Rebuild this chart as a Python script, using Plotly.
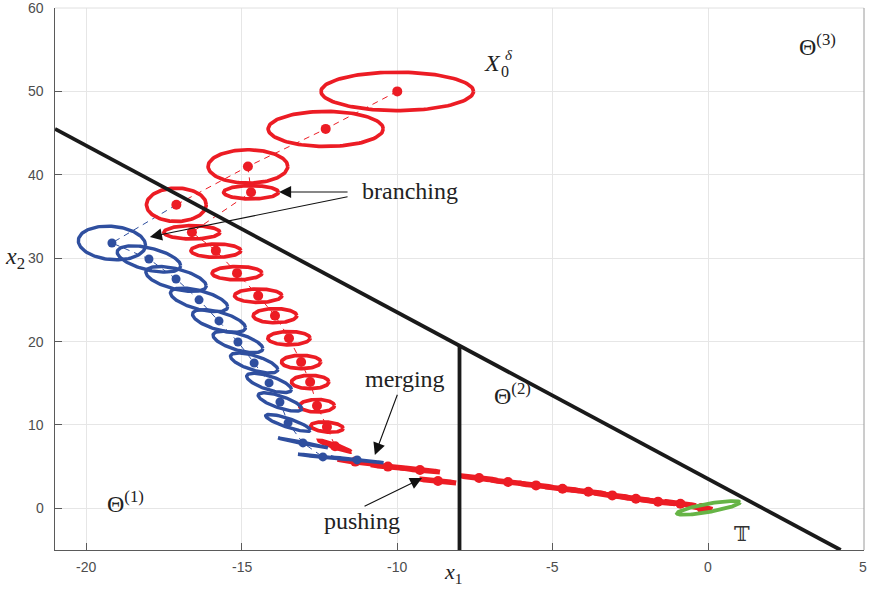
import numpy as np
import plotly.graph_objects as go

# ---------------- data ----------------
# region boundaries: x2 = slope*x1 + intercept, and a vertical wall at x1 = wall_x
bound_slope = -2.0
bound_intercept = 3.5
wall_x = -8.0

# red uncertainty sets (center, half-width in x1, half-height in x2, shear dx2/dx1)
red_cx = [-10.0, -12.3, -14.8, -14.7, -17.1, -16.6, -15.83, -15.15, -14.47, -13.93,
          -13.48, -13.09, -12.8, -12.58, -12.26, -12.0]
red_cy = [50.0, 45.5, 41.0, 37.9, 36.4, 33.1, 30.9, 28.2, 25.5, 23.1,
          20.4, 17.55, 15.15, 12.3, 9.75, 7.45]
red_rx = [2.45, 1.85, 1.28, 0.88, 0.96, 0.9, 0.8, 0.8, 0.76, 0.7,
          0.68, 0.63, 0.6, 0.56, 0.52, 0.52]
red_ry = [2.3, 2.1, 2.0, 0.8, 2.0, 0.8, 0.8, 0.8, 0.8, 0.85,
          0.8, 0.8, 0.8, 0.75, 0.6, 0.22]
red_k = [0.0, 0.0, 0.0, 0.0, 0.0, 0.0, 0.0, 0.0, 0.0, 0.0,
         0.0, 0.0, 0.0, 0.0, -0.3, -1.3]

# red degenerate (flat) sets after merging, on the way to the target
seg_cx = [-11.35, -10.3, -9.27, -8.69, -7.37, -6.44, -5.54, -4.69, -3.86, -3.09,
          -2.33, -1.62, -0.9, -0.22]
seg_cy = [5.6, 5.0, 4.6, 3.27, 3.63, 3.15, 2.75, 2.35, 1.98, 1.55,
          1.15, 0.8, 0.55, 0.05]
seg_rx = [0.55, 0.55, 0.64, 0.58, 0.58, 0.55, 0.55, 0.55, 0.55, 0.55,
          0.55, 0.55, 0.5, 0.35]
seg_ry = [0.07] * 14
seg_k = [-0.5, -0.4, -0.4, -0.41, -0.45, -0.45, -0.45, -0.45, -0.45, -0.5,
         -0.5, -0.45, -0.5, -0.5]

# blue uncertainty sets
blue_cx = [-19.17, -17.98, -17.11, -16.37, -15.73, -15.12, -14.6, -14.12, -13.77, -13.51,
           -13.03, -12.39, -11.29]
blue_cy = [31.82, 29.9, 27.5, 25.0, 22.47, 19.95, 17.43, 15.04, 12.75, 10.24,
           7.84, 6.16, 5.8]
blue_rx = [1.08, 1.02, 0.97, 0.92, 0.85, 0.8, 0.76, 0.72, 0.7, 0.72,
           0.8, 0.8, 0.85]
blue_ry = [2.0, 1.35, 1.25, 1.15, 1.1, 1.0, 0.9, 0.85, 0.75, 0.55,
           0.08, 0.06, 0.06]
blue_k = [-0.25, -0.8, -0.85, -0.9, -0.95, -1.0, -1.05, -1.1, -1.15, -1.2,
          -0.75, -0.4, -0.4]

# target set
target_c = (0.0, 0.05)
target_rx, target_ry, target_k = 1.01, 0.5, 0.65

# dashed nominal paths (indices into red / blue centers)
red_path_a = [0, 1, 2, 4]
red_path_b = [2, 3, 5, 6, 7, 8, 9, 10, 11, 12, 13, 14, 15]
blue_start_red = 4

x_range = [-21.0, 5.0]
y_range = [-5.0, 60.0]
x_ticks = [-20, -15, -10, -5, 0, 5]
y_ticks = [0, 10, 20, 30, 40, 50, 60]

RED = "#ec1c24"
BLUE = "#2f4f9f"
GREEN = "#66b446"
BLACK = "#1a1a1a"
SERIF = "Liberation Serif"
TICKFONT = dict(family="Liberation Sans", size=14, color="#4d4d4d")


def ellipse_pts(cx, cy, rx, ry, k, n=120):
    t = np.linspace(0, 2 * np.pi, n)
    return cx + rx * np.cos(t), cy + k * rx * np.cos(t) + ry * np.sin(t)


def ellipse_trace(cxs, cys, rxs, rys, ks, color, width):
    xs, ys = [], []
    for cx, cy, rx, ry, k in zip(cxs, cys, rxs, rys, ks):
        ex, ey = ellipse_pts(cx, cy, rx, ry, k)
        xs += list(ex) + [None]
        ys += list(ey) + [None]
    return go.Scatter(x=xs, y=ys, mode="lines", line=dict(color=color, width=width),
                      hoverinfo="skip", showlegend=False)


fig = go.Figure()

# dashed nominal paths
fig.add_trace(go.Scatter(x=[red_cx[i] for i in red_path_a], y=[red_cy[i] for i in red_path_a],
                         mode="lines", line=dict(color=RED, width=1, dash="6px,5px"),
                         showlegend=False))
fig.add_trace(go.Scatter(x=[red_cx[i] for i in red_path_b], y=[red_cy[i] for i in red_path_b],
                         mode="lines", line=dict(color=RED, width=1, dash="6px,5px"),
                         showlegend=False))
fig.add_trace(go.Scatter(x=[red_cx[blue_start_red]] + blue_cx, y=[red_cy[blue_start_red]] + blue_cy,
                         mode="lines", line=dict(color=BLUE, width=1, dash="6px,5px"),
                         showlegend=False))

# uncertainty sets
fig.add_trace(ellipse_trace(red_cx, red_cy, red_rx, red_ry, red_k, RED, 3.7))
fig.add_trace(ellipse_trace(seg_cx, seg_cy, seg_rx, seg_ry, seg_k, RED, 5))
fig.add_trace(go.Scatter(x=red_cx + seg_cx, y=red_cy + seg_cy, mode="markers",
                         marker=dict(color=RED, size=10), showlegend=False))
fig.add_trace(ellipse_trace(blue_cx, blue_cy, blue_rx, blue_ry, blue_k, BLUE, 3.4))
fig.add_trace(go.Scatter(x=blue_cx, y=blue_cy, mode="markers",
                         marker=dict(color=BLUE, size=9), showlegend=False))
fig.add_trace(ellipse_trace([target_c[0]], [target_c[1]], [target_rx], [target_ry], [target_k],
                            GREEN, 3.8))

# region boundaries
bx = np.array([x_range[0], (y_range[0] - bound_intercept) / bound_slope])
fig.add_trace(go.Scatter(x=bx, y=bound_slope * bx + bound_intercept, mode="lines",
                         line=dict(color=BLACK, width=3.8), showlegend=False))
fig.add_trace(go.Scatter(x=[wall_x, wall_x], y=[y_range[0], bound_slope * wall_x + bound_intercept],
                         mode="lines", line=dict(color=BLACK, width=3.8), showlegend=False))

ann = []


def text(x, y, s, size=24, **kw):
    d = dict(x=x, y=y, xref="x", yref="y", text=s, showarrow=False,
             font=dict(family=SERIF, size=size, color="#222"))
    d.update(kw)
    ann.append(d)


def arrow(x0, y0, x1, y1):
    ann.append(dict(x=x1, y=y1, ax=x0, ay=y0, xref="x", yref="y", axref="x", ayref="y",
                    text="", showarrow=True, arrowhead=2, arrowsize=2.2, arrowwidth=1.1,
                    arrowcolor="#111"))


text(-9.6, 38.0, "branching")
arrow(-11.55, 37.93, -13.8, 37.93)
arrow(-11.55, 37.4, -17.95, 32.55)
text(-9.75, 15.5, "merging")
arrow(-9.98, 13.8, -10.72, 6.4)
text(-11.13, -1.5, "pushing")
arrow(-11.1, 0.15, -9.2, 3.63)

text(-18.75, 0.7, "Θ<sup>(1)</sup>", size=24)
text(-6.3, 13.7, "Θ<sup>(2)</sup>", size=24)
text(3.5, 55.6, "Θ<sup>(3)</sup>", size=24)
text(-6.95, 53.4, "<i>X</i>", size=24)
text(-6.42, 54.4, "<i>δ</i>", size=15)
text(-6.55, 52.4, "0", size=16)
text(1.08, -3.1, "𝕋", font=dict(family="DejaVu Serif", size=21, color="#333"))

# axis titles
ann.append(dict(x=0.492, y=-0.043, xref="paper", yref="paper", text="<i>x</i><sub>1</sub>",
                showarrow=False, font=dict(family=SERIF, size=22, color="#222"),
                xanchor="center", yanchor="middle"))
ann.append(dict(x=-0.05, y=0.539, xref="paper", yref="paper", text="<i>x</i><sub>2</sub>",
                showarrow=False, font=dict(family=SERIF, size=24, color="#222"),
                xanchor="center", yanchor="middle"))

# tick labels, placed beside the inward ticks (paper fractions of the axis ranges);
# the last x label is right-anchored so it stays inside the page
for v in x_ticks:
    fx = (v - x_range[0]) / (x_range[1] - x_range[0])
    last = v == x_ticks[-1]
    ann.append(dict(x=fx, y=-0.031, xref="paper", yref="paper", text=str(v), showarrow=False,
                    font=TICKFONT, xanchor="right" if last else "center", yanchor="middle",
                    xshift=4 if last else 0, borderpad=0))
for v in y_ticks:
    fy = (v - y_range[0]) / (y_range[1] - y_range[0])
    ann.append(dict(x=-0.011, y=fy, xref="paper", yref="paper", text=str(v), showarrow=False,
                    font=TICKFONT, xanchor="right", yanchor="middle"))

axis_common = dict(showline=True, linecolor="#5a5a5a", linewidth=1, ticks="inside",
                   ticklen=7, tickcolor="#5a5a5a", showgrid=True, gridcolor="#e6e6e6",
                   gridwidth=1, zeroline=False, showticklabels=False)

fig.update_layout(
    width=869, height=590,
    margin=dict(l=55, r=5, t=8, b=40, autoexpand=False),
    plot_bgcolor="white", paper_bgcolor="white",
    xaxis=dict(range=x_range, tickvals=x_ticks, **axis_common),
    yaxis=dict(range=y_range, tickvals=y_ticks, **axis_common),
    annotations=ann,
    shapes=[
        dict(type="line", xref="paper", yref="paper", x0=0, x1=1, y0=1, y1=1,
             line=dict(color="#e0e0e0", width=1)),
        dict(type="line", xref="paper", yref="paper", x0=1, x1=1, y0=0, y1=1,
             line=dict(color="#9a9a9a", width=1)),
    ],
)

fig.write_html("out.html")
